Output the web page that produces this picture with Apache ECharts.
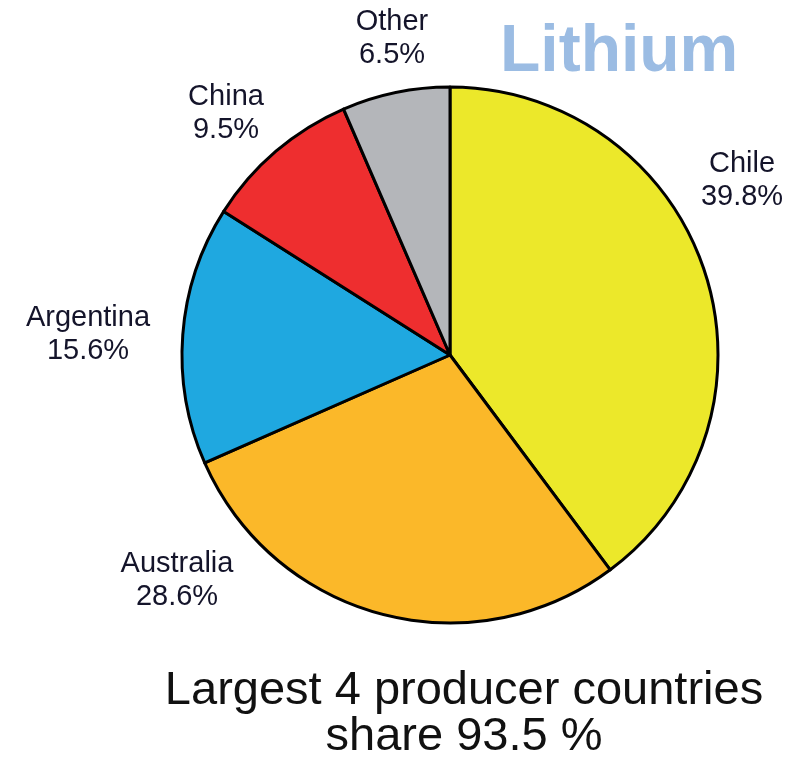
<!DOCTYPE html>
<html><head><meta charset="utf-8">
<script src="https://cdn.jsdelivr.net/npm/echarts@6/dist/echarts.min.js"></script>
<style>html,body{margin:0;padding:0;background:#fff}#c{width:795px;height:759px}</style>
</head><body><div id="c"></div>
<script>
const countries = ['Chile', 'Australia', 'Argentina', 'China', 'Other'];
const shares = [39.8, 28.6, 15.6, 9.5, 6.5];
const colors = ['#ECE82A', '#FBB829', '#1FA8E0', '#EE2E2F', '#B4B6BA'];
const titleText = 'Lithium';
const noteLines = ['Largest 4 producer countries', 'share 93.5 %'];
// label block centres (layout only)
const labelPos = [[742, 180], [177, 580], [88, 334], [226, 113], [392, 38]];

const chart = echarts.init(document.getElementById('c'));
chart.setOption({
  backgroundColor: '#fff',
  animation: false,
  title: [
    { text: titleText, left: 495, top: 15,
      textStyle: { fontFamily: 'Liberation Sans, Arial, sans-serif', fontSize: 66, fontWeight: 'bold', color: '#9BBCE3' } },
    { text: noteLines.join('\n'), left: 459, top: 663, textAlign: 'center',
      textStyle: { fontFamily: 'Liberation Sans, Arial, sans-serif', fontSize: 47, fontWeight: 'normal', color: '#111', lineHeight: 46 } }
  ],
  series: [{
    type: 'pie',
    center: [450, 355],
    radius: [0, 268],
    startAngle: 90,
    clockwise: true,
    avoidLabelOverlap: false,
    itemStyle: { borderColor: '#000', borderWidth: 3 },
    label: {
      show: true, position: 'outside',
      formatter: p => p.name + '\n' + p.value + '%',
      fontFamily: 'Liberation Sans, Arial, sans-serif', fontSize: 29, lineHeight: 33,
      color: '#14142a', align: 'center'
    },
    labelLine: { show: false },
    labelLayout: p => ({ x: labelPos[p.dataIndex][0], y: labelPos[p.dataIndex][1], align: 'center', verticalAlign: 'middle' }),
    emphasis: { disabled: true },
    data: countries.map((n, i) => ({ name: n, value: shares[i], itemStyle: { color: colors[i] } }))
  }]
});
</script></body></html>
